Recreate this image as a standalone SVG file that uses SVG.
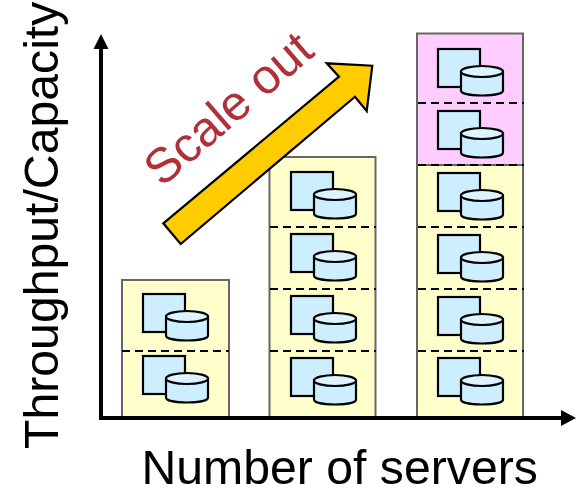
<svg xmlns="http://www.w3.org/2000/svg" xmlns:xlink="http://www.w3.org/1999/xlink" width="580" height="488" viewBox="0 0 580 488">
<style>
.lbl{font-family:"Liberation Sans",Arial,sans-serif;font-size:48.2px;fill:#000}
.bay{stroke:#666;stroke-width:2}
.y{fill:#ffffcc}.p{fill:#ffccff}
.div{stroke:#000;stroke-width:2;stroke-dasharray:8 5;fill:none}
.s{fill:#cceeff;stroke:#000;stroke-width:2.2}
.t{fill:#ddf3ff;stroke:#000;stroke-width:2.2}
</style>
<defs>
<g id="srv">
<rect class="s" x="0" y="0" width="42" height="38"/>
<path class="s" d="M23 22.500V41.500C23 44.500 32 46.500 44 46.500C56 46.500 65 44.500 65 41.500V22.500Z"/>
<ellipse class="t" cx="44" cy="22.500" rx="21" ry="5.500"/>
</g>
</defs>
<g id="column-1">
<rect class="bay y" x="122" y="280" width="107" height="137"/>
<path class="div" d="M122 351H229"/>
<use id="server-1-1" xlink:href="#srv" x="143" y="294"/>
<use id="server-1-2" xlink:href="#srv" x="143" y="356"/>
</g>
<g id="column-2">
<rect class="bay y" x="269.500" y="157" width="106" height="260"/>
<path class="div" d="M270 227H376M270 289H376M270 351H376"/>
<use id="server-2-1" xlink:href="#srv" x="291" y="172"/>
<use id="server-2-2" xlink:href="#srv" x="291" y="234"/>
<use id="server-2-3" xlink:href="#srv" x="291" y="296"/>
<use id="server-2-4" xlink:href="#srv" x="291" y="358"/>
</g>
<g id="column-3">
<rect class="bay y" x="417" y="165" width="106" height="252"/>
<rect class="bay p" x="417" y="33.500" width="106" height="131.500"/>
<path class="div" d="M418 103H524M418 165H524M418 227H524M418 289H524M418 351H524"/>
<use id="server-3-1" xlink:href="#srv" x="438" y="49"/>
<use id="server-3-2" xlink:href="#srv" x="438" y="111"/>
<use id="server-3-3" xlink:href="#srv" x="438" y="173"/>
<use id="server-3-4" xlink:href="#srv" x="438" y="235"/>
<use id="server-3-5" xlink:href="#srv" x="438" y="297"/>
<use id="server-3-6" xlink:href="#srv" x="438" y="358"/>
</g>
<g id="connectors">
<path d="M101 418V48" stroke="#000" stroke-width="4" fill="none"/>
<path d="M101 34L108.500 49H93.500Z" fill="#000"/>
<path d="M99 418H562" stroke="#000" stroke-width="4" fill="none"/>
<path d="M576 418L561 410V426Z" fill="#000"/>
<path id="scale-arrow" d="M163.300 223.300L339 76.700L326.700 63.300L372.300 65.700L366.700 111L355 96.700L180.700 244Z" fill="#ffcc00" stroke="#000" stroke-width="2.200"/>
</g>
<text class="lbl" transform="translate(58 449) rotate(-90)">Throughput/Capacity</text>
<text class="lbl" x="141.500" y="483.500">Number of servers</text>
<text class="lbl" transform="translate(162 188) rotate(-41)" style="fill:#b03039;font-size:49px">Scale out</text>
</svg>
